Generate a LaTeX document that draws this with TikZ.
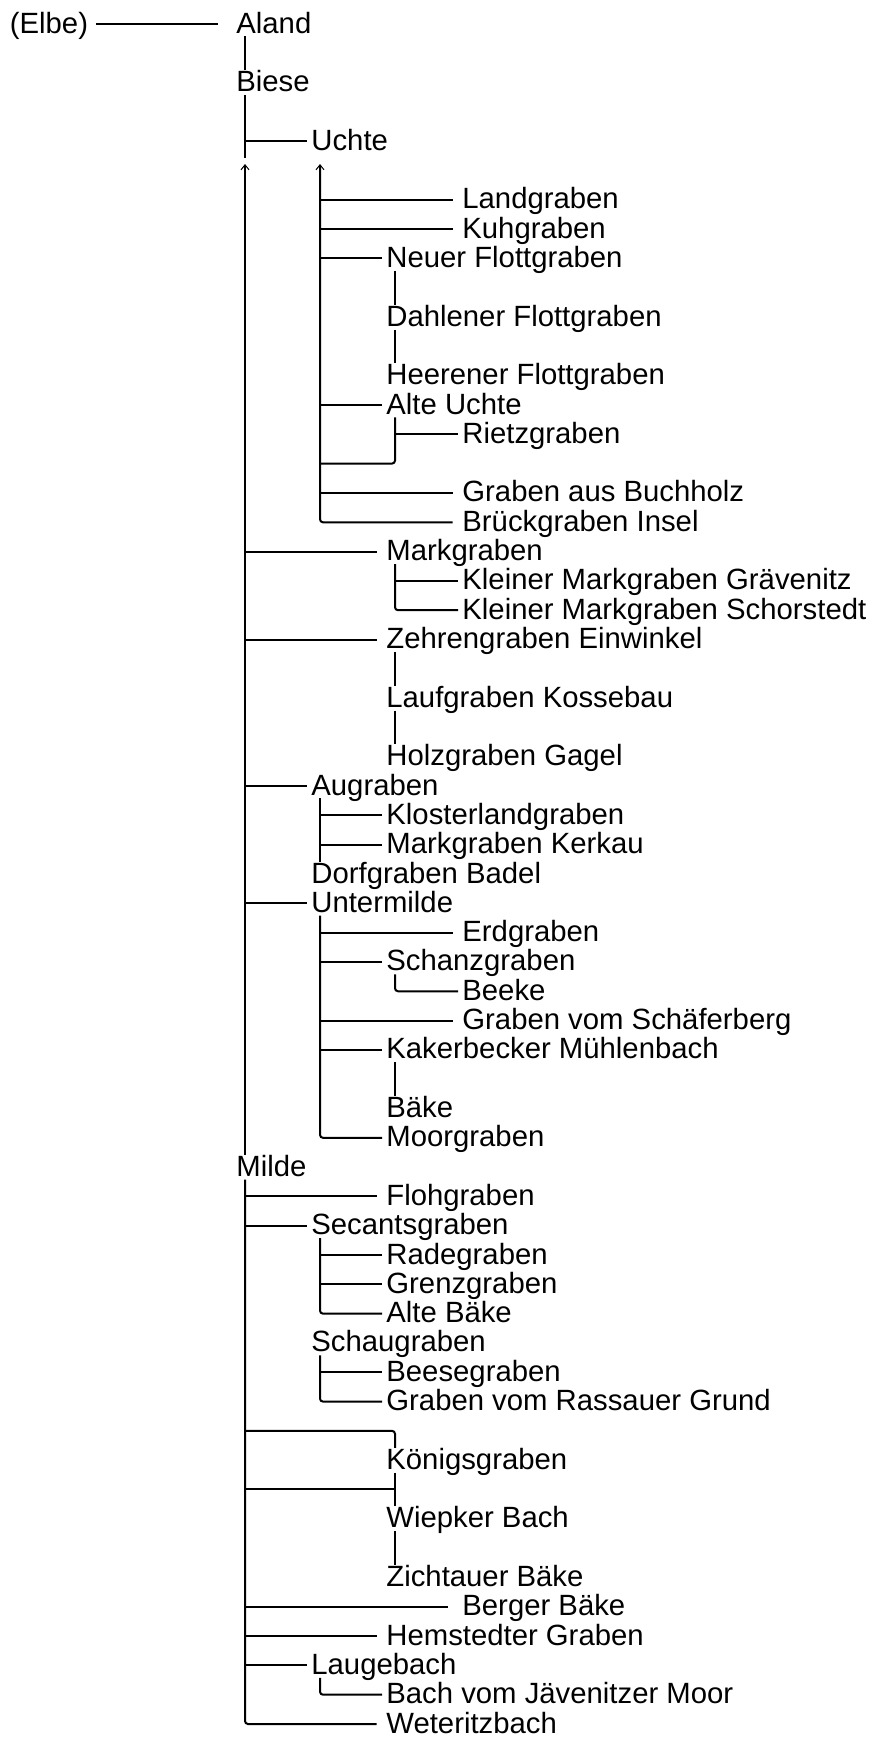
\documentclass[tikz,border=0pt]{standalone}
\usepackage{fontspec}
\setmainfont{Liberation Sans}
\usepackage{tikz}
\usetikzlibrary{arrows.meta}

\begin{document}
\begin{tikzpicture}[x=0.5pt,y=-14.655pt,
		riv/.style={anchor=base west,inner sep=0pt,text height=10.5pt,text depth=1.5pt,font=\fontsize{14.65pt}{17pt}\selectfont},
		strm/.style={line width=1pt},
		arm/.style={strm,shorten >=2pt},
		arm2/.style={strm,shorten >=4.75pt},
		arm3/.style={strm,shorten >=7pt},
		upend/.style={<-,>={Straight Barb[length=2.5pt,width=4pt,line width=0.5pt]}}]
		\useasboundingbox (0,-1.126) rectangle (871,58.17);
		
		\node[riv] (el) at (9.5,0) {(Elbe)};
		\node[riv] (al) at (236,0) {Aland};
		\node[riv] (bi) at (236,2) {Biese};
		\node[riv] (uc) at (311,4) {Uchte};
		\node[riv] (lg) at (462,6) {Landgraben};
		\node[riv] (kg) at (462,7) {Kuhgraben};
		\node[riv] (nf) at (386,8) {Neuer Flottgraben};
		\node[riv] (df) at (386,10) {Dahlener Flottgraben};
		\node[riv] (hf) at (386,12) {Heerener Flottgraben};
		\node[riv] (au) at (386,13) {Alte Uchte};
		\node[riv] (rg) at (462,14) {Rietzgraben};
		\node[riv] (gb) at (462,16) {Graben aus Buchholz};
		\node[riv] (bg) at (462,17) {Brückgraben Insel};
		\node[riv] (mg) at (386,18) {Markgraben};
		\node[riv] (kgr) at (462,19) {Kleiner Markgraben Grävenitz};
		\node[riv] (ksc) at (462,20) {Kleiner Markgraben Schorstedt};
		\node[riv] (ze) at (386,21) {Zehrengraben Einwinkel};
		\node[riv] (lk) at (386,23) {Laufgraben Kossebau};
		\node[riv] (hg) at (386,25) {Holzgraben Gagel};
		\node[riv] (ag) at (311,26) {Augraben};
		\node[riv] (kl) at (386,27) {Klosterlandgraben};
		\node[riv] (mk) at (386,28) {Markgraben Kerkau};
		\node[riv] (db) at (311,29) {Dorfgraben Badel};
		\node[riv] (um) at (311,30) {Untermilde};
		\node[riv] (eg) at (462,31) {Erdgraben};
		\node[riv] (sg) at (386,32) {Schanzgraben};
		\node[riv] (be) at (462,33) {Beeke};
		\node[riv] (gs) at (462,34) {Graben vom Schäferberg};
		\node[riv] (km) at (386,35) {Kakerbecker Mühlenbach};
		\node[riv] (bk) at (386,37) {Bäke};
		\node[riv] (mo) at (386,38) {Moorgraben};
		\node[riv] (mi) at (236,39) {Milde};
		\node[riv] (fg) at (386,40) {Flohgraben};
		\node[riv] (se) at (311,41) {Secantsgraben};
		\node[riv] (ra) at (386,42) {Radegraben};
		\node[riv] (gr) at (386,43) {Grenzgraben};
		\node[riv] (ab) at (386,44) {Alte Bäke};
		\node[riv] (sc) at (311,45) {Schaugraben};
		\node[riv] (bs) at (386,46) {Beesegraben};
		\node[riv] (rs) at (386,47) {Graben vom Rassauer Grund};
		\node[riv] (kn) at (386,49) {Königsgraben};
		\node[riv] (wb) at (386,51) {Wiepker Bach};
		\node[riv] (zb) at (386,53) {Zichtauer Bäke};
		\node[riv] (bb) at (462,54) {Berger Bäke};
		\node[riv] (hs) at (386,55) {Hemstedter Graben};
		\node[riv] (lb) at (311,56) {Laugebach};
		\node[riv] (jm) at (386,57) {Bach vom Jävenitzer Moor};
		\node[riv] (wz) at (386,58) {Weteritzbach};
		
		\coordinate (bt) at (245,4.27);
		\coordinate (mt) at (245,4.47);
		\coordinate (ut) at (320,4.47);
		\coordinate (ue) at (320,14.69);
		\coordinate (k1) at (245,47.69);
		\coordinate (k2) at (245,49.69);
		
		\draw[strm,shorten <=3.75pt,shorten >=9pt] (el.east) -- (al.west);
		\draw[strm] ([xshift=4.5pt]al.south west) -- ([xshift=4.5pt]bi.north west);
		\draw[strm] ([xshift=4.5pt]bi.south west) -- (bt);
		\draw[arm] (bt |- uc.west) -- (uc.west);
		
		\draw[arm2,upend,rounded corners=1.5pt] (ut) |- (bg.west);
		\draw[arm2] (ut |- lg.west) -- (lg.west);
		\draw[arm2] (ut |- kg.west) -- (kg.west);
		\draw[arm] (ut |- nf.west) -- (nf.west);
		\draw[strm] ([xshift=4.5pt]nf.south west) -- ([xshift=4.5pt]df.north west);
		\draw[strm] ([xshift=4.5pt]df.south west) -- ([xshift=4.5pt]hf.north west);
		\draw[arm] (ut |- au.west) -- (au.west);
		\coordinate (auv) at ([xshift=4.5pt]au.south west);
		\draw[strm,rounded corners=1.5pt] (auv) |- (ue);
		\draw[arm] (auv |- rg.west) -- (rg.west);
		\draw[arm2] (ut |- gb.west) -- (gb.west);
		
		\draw[strm,upend] (mt) -- ([xshift=4.5pt]mi.north west);
		\draw[arm2,rounded corners=1.5pt] ([xshift=4.5pt]mi.south west) |- (wz.west);
		\draw[arm2] (mt |- mg.west) -- (mg.west);
		\coordinate (mgv) at ([xshift=4.5pt]mg.south west);
		\draw[arm] (mgv |- kgr.west) -- (kgr.west);
		\draw[arm,rounded corners=1.5pt] (mgv) |- (ksc.west);
		\draw[arm2] (mt |- ze.west) -- (ze.west);
		\draw[strm] ([xshift=4.5pt]ze.south west) -- ([xshift=4.5pt]lk.north west);
		\draw[strm] ([xshift=4.5pt]lk.south west) -- ([xshift=4.5pt]hg.north west);
		\draw[arm] (mt |- ag.west) -- (ag.west);
		\coordinate (agv) at ([xshift=4.5pt]ag.south west);
		\draw[strm] (agv) -- ([xshift=4.5pt]db.north west);
		\draw[arm] (agv |- kl.west) -- (kl.west);
		\draw[arm] (agv |- mk.west) -- (mk.west);
		\draw[arm] (mt |- um.west) -- (um.west);
		\coordinate (umv) at ([xshift=4.5pt]um.south west);
		\draw[arm,rounded corners=1.5pt] (umv) |- (mo.west);
		\draw[arm2] (umv |- eg.west) -- (eg.west);
		\draw[arm] (umv |- sg.west) -- (sg.west);
		\draw[arm,rounded corners=1.5pt] ([xshift=4.5pt]sg.south west) |- (be.west);
		\draw[arm2] (umv |- gs.west) -- (gs.west);
		\draw[arm] (umv |- km.west) -- (km.west);
		\draw[strm] ([xshift=4.5pt]km.south west) -- ([xshift=4.5pt]bk.north west);
		
		\draw[arm2] (mt |- fg.west) -- (fg.west);
		\draw[arm] (mt |- se.west) -- (se.west);
		\coordinate (sev) at ([xshift=4.5pt]se.south west);
		\draw[arm] (sev |- ra.west) -- (ra.west);
		\draw[arm] (sev |- gr.west) -- (gr.west);
		\draw[arm,rounded corners=1.5pt] (sev) |- (ab.west);
		\coordinate (scv) at ([xshift=4.5pt]sc.south west);
		\draw[arm] (scv |- bs.west) -- (bs.west);
		\draw[arm,rounded corners=1.5pt] (scv) |- (rs.west);
		\draw[strm,rounded corners=1.5pt] (k1) -| ([xshift=4.5pt]kn.north west);
		\coordinate (knv) at ([xshift=4.5pt]kn.south west);
		\draw[strm] (knv) -- ([xshift=4.5pt]wb.north west);
		\draw[strm] (k2) -- (knv |- k2);
		\draw[strm] ([xshift=4.5pt]wb.south west) -- ([xshift=4.5pt]zb.north west);
		\draw[arm3] (mt |- bb.west) -- (bb.west);
		\draw[arm2] (mt |- hs.west) -- (hs.west);
		\draw[arm] (mt |- lb.west) -- (lb.west);
		\draw[arm,rounded corners=1.5pt] ([xshift=4.5pt]lb.south west) |- (jm.west);
\end{tikzpicture}
\end{document}
